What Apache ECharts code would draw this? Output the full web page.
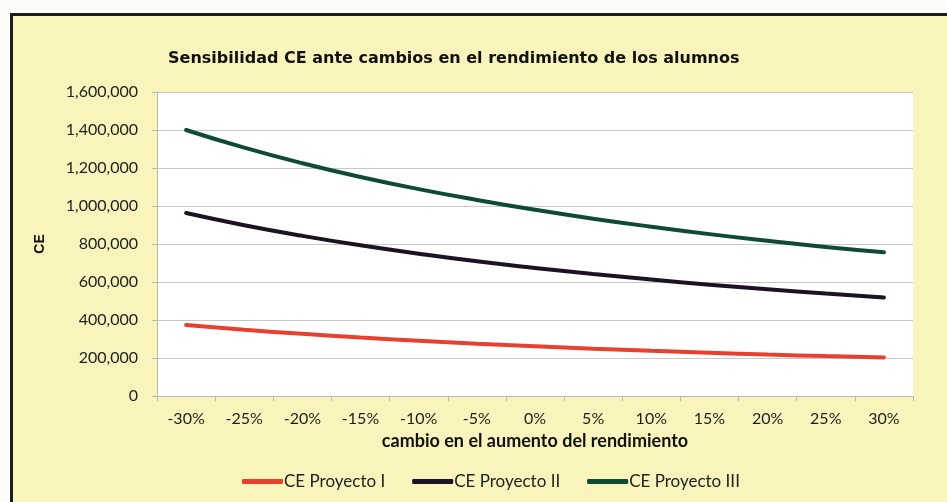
<!DOCTYPE html>
<html>
<head>
<meta charset="utf-8">
<script src="https://cdn.jsdelivr.net/npm/echarts@6/dist/echarts.min.js"></script>
<style>
html,body{margin:0;padding:0;background:#fbfbf8;overflow:hidden;}
#frame{position:absolute;left:10px;top:13px;width:940px;height:492px;background:#f8f4bb;border-top:3px solid #1c1c1c;border-left:3px solid #1c1c1c;}
#chart{position:absolute;left:0;top:0;width:947px;height:502px;}
</style>
</head>
<body>
<div id="frame"></div>
<div id="chart"></div>
<script>
const categories = ['-30%','-25%','-20%','-15%','-10%','-5%','0%','5%','10%','15%','20%','25%','30%'];
const proyectoI = [374000,349000,327000,308000,291000,275000,262000,249000,238000,228000,218000,210000,203000];
const proyectoII = [963000,899000,843000,793000,749000,709000,674000,642000,613000,586000,562000,539000,519000];
const proyectoIII = [1400000,1307000,1225000,1153000,1089000,1032000,980000,933000,891000,852000,817000,784000,756000];
const seriesNames = ['CE Proyecto I','CE Proyecto II','CE Proyecto III'];

const chart = echarts.init(document.getElementById('chart'), null, {renderer:'canvas'});
const fmt = v => v.toString().replace(/\B(?=(\d{3})+(?!\d))/g, ',');
const labelFont = 'Lato, "Open Sans", sans-serif';
const colors = ['#e8402f','#1b1222','#0f4a32'];
const datasets = [proyectoI, proyectoII, proyectoIII];

chart.setOption({
  backgroundColor: 'transparent',
  animation: false,
  title: {
    text: 'Sensibilidad CE ante cambios en el rendimiento de los alumnos',
    left: 163, top: 46,
    textStyle: {fontFamily: '"DejaVu Sans", sans-serif', fontWeight: 'bold', fontSize: 16, color: '#111'}
  },
  legend: {
    data: seriesNames,
    left: 237, top: 468,
    icon: 'roundRect',
    itemWidth: 41, itemHeight: 5,
    itemGap: 27,
    textStyle: {fontFamily: labelFont, fontSize: 17, color: '#222', padding: [0,0,0,-4]}
  },
  grid: {
    left: 157, right: 34, top: 92, bottom: 106,
    show: true, backgroundColor: '#ffffff', borderWidth: 0
  },
  xAxis: {
    type: 'category',
    data: categories,
    boundaryGap: true,
    name: 'cambio en el aumento del rendimiento',
    nameLocation: 'middle',
    nameGap: 36,
    nameTextStyle: {fontFamily: labelFont, fontWeight: 'bold', fontSize: 18, color: '#111'},
    axisLine: {lineStyle: {color: '#b9b9b9', width: 1}},
    axisTick: {show: true, length: 5, lineStyle: {color: '#b9b9b9'}},
    axisLabel: {margin: 15, fontFamily: labelFont, fontSize: 16, color: '#1e1e1e'}
  },
  yAxis: {
    type: 'value',
    min: 0, max: 1600000, interval: 200000,
    name: 'CE',
    nameLocation: 'middle',
    nameRotate: 90,
    nameGap: 110,
    nameTextStyle: {fontFamily: '"Liberation Sans", Arial, sans-serif', fontWeight: 'bold', fontSize: 14, color: '#111'},
    axisLine: {show: true, lineStyle: {color: '#b9b9b9', width: 1}},
    axisTick: {show: true, length: 5, lineStyle: {color: '#b9b9b9'}},
    axisLabel: {margin: 19, fontFamily: labelFont, fontSize: 16, color: '#1e1e1e', formatter: v => fmt(v)},
    splitLine: {show: true, lineStyle: {color: '#c8c8c8', width: 1}}
  },
  series: datasets.map((d, i) => ({
    name: seriesNames[i],
    type: 'line',
    data: d,
    smooth: true,
    symbol: 'none',
    itemStyle: {color: colors[i]},
    lineStyle: {color: colors[i], width: 4, cap: 'round'}
  }))
});
</script>
</body>
</html>
